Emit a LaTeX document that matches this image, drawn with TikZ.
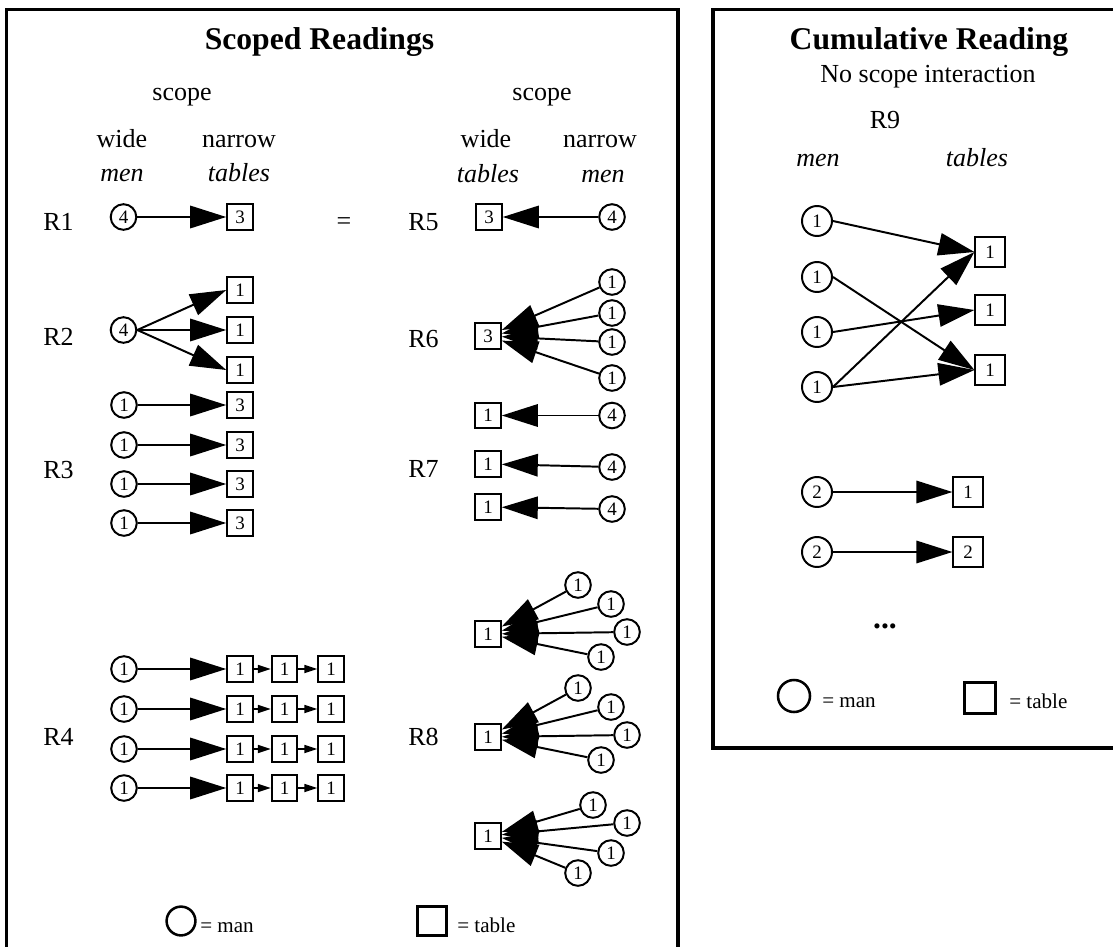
\documentclass[tikz,border=0pt]{standalone}
\usepackage{fontspec}
\setmainfont{Liberation Serif}
\usetikzlibrary{arrows.meta}
\newcommand{\ttlfont}{\fontsize{22.5}{27}\selectfont\bfseries}
\newcommand{\txtfont}{\fontsize{18.5}{22}\selectfont}
\newcommand{\numfont}{\fontsize{13.5}{14}\selectfont}
\newcommand{\legfont}{\fontsize{15}{18}\selectfont}
\tikzstyle{man} = [circle, draw=black, line width=1.4pt, minimum size=0.64cm, inner sep=0pt, font=\numfont]
\tikzstyle{tbl} = [rectangle, draw=black, line width=1.4pt, minimum size=0.64cm, inner sep=0pt, font=\numfont]
\tikzstyle{bigman} = [man, minimum size=0.75cm]
\tikzstyle{bigtbl} = [tbl, minimum size=0.73cm]
\tikzstyle{legman} = [circle, draw=black, line width=1.8pt, minimum size=0.72cm, inner sep=0pt]
\tikzstyle{legtbl} = [rectangle, draw=black, line width=1.8pt, minimum size=0.72cm, inner sep=0pt]
\tikzstyle{ttl} = [anchor=base, inner sep=0pt, font=\ttlfont]
\tikzstyle{txt} = [anchor=base, inner sep=0pt, font=\txtfont]
\tikzstyle{rlab} = [anchor=base west, inner sep=0pt, font=\txtfont]
\tikzstyle{legtxt} = [anchor=base west, inner sep=0pt, font=\legfont]
\tikzstyle{arrow} = [line width=1.4pt, -{Triangle[length=0.9cm, width=0.56cm]}]
\tikzstyle{smallarrow} = [line width=1.2pt, -{Triangle[length=0.32cm, width=0.2cm]}]
\tikzstyle{panel} = [line width=2.5pt]
\begin{document}
\begin{tikzpicture}[x=0.025cm, y=-0.025cm]
\useasboundingbox[fill=white] (0,0) rectangle (1113,947);

% Panels
\draw [panel] (6.5,947) -- (6.5,9.5) -- (678,9.5) -- (678,947);
\draw [panel] (1113,748) -- (713,748) -- (713,9.5) -- (1113,9.5);

% Scoped readings: headers
\node (titleL) [ttl] at (319.5,50) {Scoped Readings};
\node (scopeL) [txt] at (182,100) {scope};
\node (wideL) [txt] at (122,147) {wide};
\node (narrowL) [txt] at (239,147) {narrow};
\node (menL) [txt] at (122,181) {\textit{men}};
\node (tablesL) [txt] at (239,181) {\textit{tables}};
\node (scopeR) [txt] at (542,100) {scope};
\node (wideR) [txt] at (486,147) {wide};
\node (narrowR) [txt] at (600,147) {narrow};
\node (tablesR) [txt] at (488,182) {\textit{tables}};
\node (menR) [txt] at (603,182) {\textit{men}};

% Reading labels
\node (r1) [rlab] at (43,230) {R1};
\node (r2) [rlab] at (43,345) {R2};
\node (r3) [rlab] at (43,478) {R3};
\node (r4) [rlab] at (43,745) {R4};
\node (r5) [rlab] at (408,230) {R5};
\node (r6) [rlab] at (408,347) {R6};
\node (r7) [rlab] at (408,477) {R7};
\node (r8) [rlab] at (408,745) {R8};
\node (eq) [txt] at (344,229) {=};

% R1
\node (m1) [man] at (123.5,217) {4};
\node (t1) [tbl] at (240,217) {3};
% R2
\node (m2) [man] at (123.5,330) {4};
\node (t2a) [tbl] at (240,290) {1};
\node (t2b) [tbl] at (240,330) {1};
\node (t2c) [tbl] at (240,370) {1};
% R3
\node (m3a) [man] at (124,405) {1};
\node (m3b) [man] at (124,445) {1};
\node (m3c) [man] at (124,484) {1};
\node (m3d) [man] at (124,523) {1};
\node (t3a) [tbl] at (240,405) {3};
\node (t3b) [tbl] at (240,445) {3};
\node (t3c) [tbl] at (240,484) {3};
\node (t3d) [tbl] at (240,523) {3};
% R4
\node (m4a) [man] at (124,669) {1};
\node (m4b) [man] at (124,709) {1};
\node (m4c) [man] at (124,749) {1};
\node (m4d) [man] at (124,788) {1};
\node (t4a1) [tbl] at (240,669) {1};
\node (t4a2) [tbl] at (284.5,669) {1};
\node (t4a3) [tbl] at (331,669) {1};
\node (t4b1) [tbl] at (240,709) {1};
\node (t4b2) [tbl] at (284.5,709) {1};
\node (t4b3) [tbl] at (331,709) {1};
\node (t4c1) [tbl] at (240,749) {1};
\node (t4c2) [tbl] at (284.5,749) {1};
\node (t4c3) [tbl] at (331,749) {1};
\node (t4d1) [tbl] at (240,788) {1};
\node (t4d2) [tbl] at (284.5,788) {1};
\node (t4d3) [tbl] at (331,788) {1};
% R5
\node (t5) [tbl] at (489,217) {3};
\node (m5) [man] at (612,217) {4};
% R6
\node (t6) [tbl] at (488,336) {3};
\node (m6a) [man] at (612,282) {1};
\node (m6b) [man] at (612,313) {1};
\node (m6c) [man] at (612,342) {1};
\node (m6d) [man] at (612,378) {1};
% R7
\node (t7a) [tbl] at (488,415.5) {1};
\node (t7b) [tbl] at (488,464) {1};
\node (t7c) [tbl] at (488,507) {1};
\node (m7a) [man] at (612,415.5) {4};
\node (m7b) [man] at (612,467) {4};
\node (m7c) [man] at (612,509) {4};
% R8
\node (t8a) [tbl] at (488,634) {1};
\node (m8a1) [man] at (578,585) {1};
\node (m8a2) [man] at (611,604) {1};
\node (m8a3) [man] at (627,632) {1};
\node (m8a4) [man] at (601,657) {1};
\node (t8b) [tbl] at (488,737) {1};
\node (m8b1) [man] at (578,688) {1};
\node (m8b2) [man] at (611,707) {1};
\node (m8b3) [man] at (627,735) {1};
\node (m8b4) [man] at (601,760) {1};
\node (t8c) [tbl] at (488,836) {1};
\node (m8c1) [man] at (593,805) {1};
\node (m8c2) [man] at (627,823) {1};
\node (m8c3) [man] at (611,853) {1};
\node (m8c4) [man] at (578,873) {1};
% Legend
\node (legmanL) [legman] at (181,921) {};
\node (legmanLtxt) [legtxt] at (200,932) {= man};
\node (legtblL) [legtbl] at (432,921) {};
\node (legtblLtxt) [legtxt] at (457,932) {= table};

% Cumulative reading
\node (titleC) [ttl] at (929,50) {Cumulative Reading};
\node (noscope) [txt] at (928,82) {No scope interaction};
\node (r9) [txt] at (885,128) {R9};
\node (menC) [txt] at (818,166) {\textit{men}};
\node (tablesC) [txt] at (977,166) {\textit{tables}};
\node (m9a) [bigman] at (817,221) {1};
\node (m9b) [bigman] at (817,277) {1};
\node (m9c) [bigman] at (817,332) {1};
\node (m9d) [bigman] at (817,387) {1};
\node (t9a) [bigtbl] at (990,252) {1};
\node (t9b) [bigtbl] at (990,310) {1};
\node (t9c) [bigtbl] at (990,370) {1};
\node (m9e) [bigman] at (817,492) {2};
\node (m9f) [bigman] at (817,552) {2};
\node (t9d) [bigtbl] at (968,492) {1};
\node (t9e) [bigtbl] at (968,552) {2};
\node (dots) [ttl] at (885,628) {...};
\node (legmanC) [legman, minimum size=0.8cm] at (794,696) {};
\node (legmanCtxt) [legtxt] at (822,707) {= man};
\node (legtblC) [legtbl, minimum size=0.78cm] at (980,698) {};
\node (legtblCtxt) [legtxt] at (1009,708) {= table};

% Arrows
\draw [arrow] (m1.east) -- (t1.west);
\draw [arrow] (m2.east) -- (t2a.west);
\draw [arrow] (m2.east) -- (t2b.west);
\draw [arrow] (m2.east) -- (t2c.west);
\draw [arrow] (m3a) -- (t3a);
\draw [arrow] (m3b) -- (t3b);
\draw [arrow] (m3c) -- (t3c);
\draw [arrow] (m3d) -- (t3d);
\draw [arrow] (m4a) -- (t4a1);
\draw [arrow] (m4b) -- (t4b1);
\draw [arrow] (m4c) -- (t4c1);
\draw [arrow] (m4d) -- (t4d1);
\draw [smallarrow] (t4a1) -- (t4a2);
\draw [smallarrow] (t4a2) -- (t4a3);
\draw [smallarrow] (t4b1) -- (t4b2);
\draw [smallarrow] (t4b2) -- (t4b3);
\draw [smallarrow] (t4c1) -- (t4c2);
\draw [smallarrow] (t4c2) -- (t4c3);
\draw [smallarrow] (t4d1) -- (t4d2);
\draw [smallarrow] (t4d2) -- (t4d3);
\draw [arrow] (m5) -- (t5);
\draw [arrow] (m6a) -- (t6);
\draw [arrow] (m6b) -- (t6);
\draw [arrow] (m6c) -- (t6);
\draw [arrow] (m6d) -- (t6);
\draw [arrow] (m7a) -- (t7a);
\draw [arrow] (m7b) -- (t7b);
\draw [arrow] (m7c) -- (t7c);
\draw [arrow] (m8a1) -- (t8a);
\draw [arrow] (m8a2) -- (t8a);
\draw [arrow] (m8a3) -- (t8a);
\draw [arrow] (m8a4) -- (t8a);
\draw [arrow] (m8b1) -- (t8b);
\draw [arrow] (m8b2) -- (t8b);
\draw [arrow] (m8b3) -- (t8b);
\draw [arrow] (m8b4) -- (t8b);
\draw [arrow] (m8c1) -- (t8c);
\draw [arrow] (m8c2) -- (t8c);
\draw [arrow] (m8c3) -- (t8c);
\draw [arrow] (m8c4) -- (t8c);
\draw [arrow] (m9a.east) -- (t9a.west);
\draw [arrow] (m9b.east) -- (t9c.west);
\draw [arrow] (m9c.east) -- (t9b.west);
\draw [arrow] (m9d.east) -- (t9a.west);
\draw [arrow] (m9d.east) -- (t9c.west);
\draw [arrow] (m9e) -- (t9d);
\draw [arrow] (m9f) -- (t9e);

\end{tikzpicture}
\end{document}
